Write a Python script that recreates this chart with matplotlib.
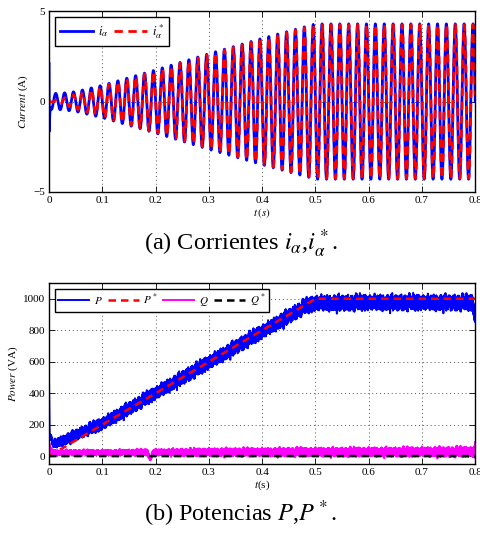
import numpy as np
import matplotlib
matplotlib.use("Agg")
import matplotlib.pyplot as plt

plt.rcParams['font.family'] = 'serif'
plt.rcParams['font.serif'] = ['Liberation Serif', 'DejaVu Serif']
plt.rcParams['mathtext.fontset'] = 'stix'

# --- valeurs ---
f_red = 60.0  # frequence du reseau (Hz)

# enveloppe du courant mesure / reference (A)
t_env = [0.0, 0.005, 0.02, 0.05, 0.1, 0.2, 0.3, 0.4, 0.5, 0.8]
amp_i = [0.35, 0.45, 0.45, 0.55, 0.9, 1.75, 2.65, 3.5, 4.3, 4.3]
amp_iref = [0.0, 0.03, 0.12, 0.4, 0.85, 1.7, 2.6, 3.45, 4.25, 4.25]
# transitoire au demarrage du courant mesure
t_spike = [0.0, 0.0004, 0.0012, 0.0025]
i_spike = [2.1, -1.6, -0.6, 0.0]

# puissance active mesuree (tendance et ecart-type de l'ondulation, W)
t_P = [0.0, 0.001, 0.004, 0.008, 0.012, 0.03, 0.06, 0.1, 0.2, 0.3, 0.4, 0.48, 0.5, 0.6, 0.7, 0.795, 0.8]
P_moy = [460, 130, 120, 75, 80, 105, 150, 205, 400, 595, 790, 950, 972, 976, 976, 975, 880]
P_ond = [0, 4, 6, 10, 12, 13, 14, 16, 17, 18, 18, 19, 20, 20, 20, 20, 20]
# references P*
t_Pref = [0.0, 0.5, 0.8]
P_ref = [0, 1000, 1000]
# puissance reactive (tendance et ondulation)
t_Q = [0.0, 0.001, 0.004, 0.01, 0.1, 0.185, 0.19, 0.195, 0.3, 0.5, 0.7, 0.795, 0.8]
Q_moy = [100, 60, 30, 22, 22, 24, -25, 24, 25, 26, 27, 27, 20]
Q_ond = [0, 6, 7, 7, 7, 8, 2, 8, 10, 11, 12, 13, 25]
t_Qref = [0.0, 0.8]
Q_ref = [0, 0]

# composantes de l'ondulation (Hz, poids, phase)
ond_freq = [120, 360, 1170, 1730, 2390, 3110, 3870, 4630, 5410, 6770, 7930, 9130]
ond_poids = [0.5, 0.4, 0.6, 0.5, 0.7, 0.6, 0.5, 0.7, 0.6, 0.5, 0.6, 0.5]
ond_phase = [0.3, 1.7, 2.9, 0.8, 4.1, 5.2, 1.1, 3.6, 2.2, 5.9, 0.5, 4.7]

t = np.linspace(0, 0.8, 8001)
w = 2 * np.pi * f_red
i_a = -np.interp(t, t_env, amp_i) * np.sin(w * t)
i_a = i_a + np.interp(t, t_spike, i_spike, right=0.0)
i_ref = -np.interp(t, t_env, amp_iref) * np.sin(w * t - 0.08)

tp = np.linspace(0, 0.8, 16001)
ond = np.zeros_like(tp)
for fr, po, ph in zip(ond_freq, ond_poids, ond_phase):
    ond += po * np.sin(2 * np.pi * fr * tp + ph)
ond = ond / ond.std()
ond2 = np.roll(ond, 3777)
P = np.interp(tp, t_P, P_moy) + np.interp(tp, t_P, P_ond) * ond
Q = np.interp(tp, t_Q, Q_moy) + np.interp(tp, t_Q, Q_ond) * ond2
Pr = np.interp(tp, t_Pref, P_ref)
Qr = np.interp(tp, t_Qref, Q_ref)

fig = plt.figure(figsize=(4.81, 5.33), dpi=100)
ax1 = fig.add_axes([0.102, 0.640, 0.886, 0.339])
ax2 = fig.add_axes([0.102, 0.1295, 0.886, 0.3395])

xt = [0, 0.1, 0.2, 0.3, 0.4, 0.5, 0.6, 0.7, 0.8]
xtl = ['0', '0.1', '0.2', '0.3', '0.4', '0.5', '0.6', '0.7', '0.8']

ax1.plot(t, i_a, color='#0000ff', lw=2.0, label=r'$i_\alpha$')
ax1.plot(t, i_ref, color='#ff0000', lw=2.0, ls=(0, (3, 2)), label=r'$i^*_\alpha$')
ax1.set_xlim(0, 0.8)
ax1.set_ylim(-5, 5)
ax1.set_yticks([-5, 0, 5])
ax1.set_yticklabels(['\u22125', '0', '5'])
ax1.set_ylabel(r'$Current$ (A)', fontsize=8, labelpad=2)
ax1.set_xlabel(r'$t\,(s)$', fontsize=8, labelpad=1)
leg1 = ax1.legend(loc='upper left', ncol=2, fontsize=9, frameon=True, fancybox=False,
                  handlelength=2.6, borderaxespad=0.5, columnspacing=0.5, handletextpad=0.4,
                  borderpad=0.4)

ax2.plot(tp, P, color='#0000ff', lw=1.4, label=r'$P$')
ax2.plot(tp, Pr, color='#ff0000', lw=1.8, ls=(0, (3, 2)), label=r'$P^*$')
ax2.plot(tp, Q, color='#ff00ff', lw=1.4, label=r'$Q$')
ax2.plot(tp, Qr, color='black', lw=1.8, ls=(0, (3, 2)), label=r'$Q^*$')
ax2.set_xlim(0, 0.8)
ax2.set_ylim(-50, 1100)
ax2.set_yticks([0, 200, 400, 600, 800, 1000])
ax2.set_ylabel(r'$Power$ (VA)', fontsize=8, labelpad=2)
ax2.set_xlabel(r'$t$(s)', fontsize=8, labelpad=1)
leg2 = ax2.legend(loc='upper left', ncol=4, fontsize=8, frameon=True, fancybox=False,
                  handlelength=2.8, borderaxespad=0.5, columnspacing=0.5, handletextpad=0.4,
                  borderpad=0.3)

for ax, leg in ((ax1, leg1), (ax2, leg2)):
    ax.set_xticks(xt)
    ax.set_xticklabels(xtl)
    ax.tick_params(direction='in', top=True, right=True, labelsize=8, length=4, width=0.6, pad=3)
    ax.grid(True, ls=(0, (1, 3)), color='#555555', lw=0.7)
    for s in ax.spines.values():
        s.set_linewidth(1.0)
    leg.get_frame().set_edgecolor('black')
    leg.get_frame().set_linewidth(1.0)
    leg.get_frame().set_alpha(1)

fig.text(0.5, 0.542, r'(a) Corrientes $i_\alpha$,$i^*_\alpha$.', ha='center', va='center', fontsize=17.5)
fig.text(0.5, 0.036, r'(b) Potencias $P$,$P^*$.', ha='center', va='center', fontsize=17.5)

fig.savefig('out.png', dpi=100)
